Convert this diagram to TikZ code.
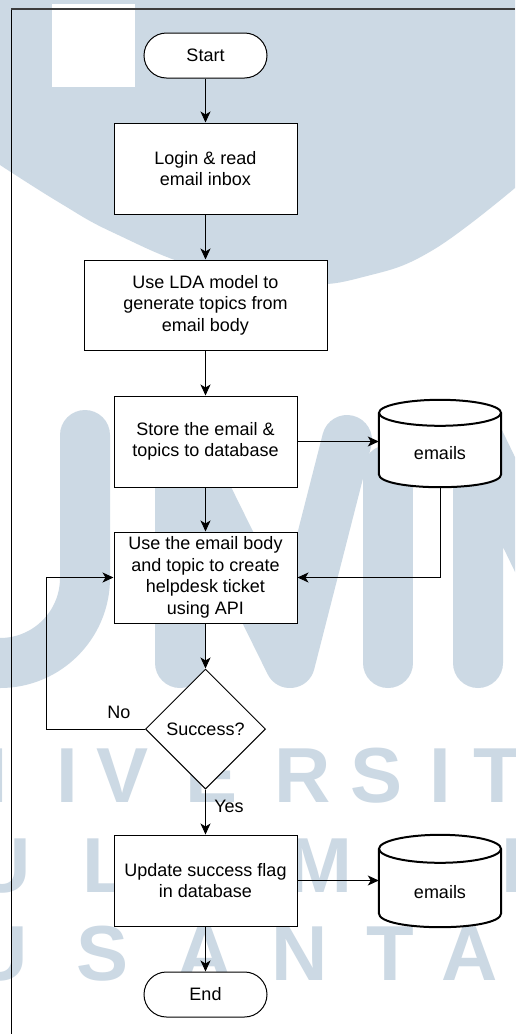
\documentclass[tikz,border=0pt]{standalone}
\usepackage{fontspec}
\setmainfont{Liberation Sans}
\usetikzlibrary{arrows.meta,shapes.geometric,calc}

\definecolor{wm}{RGB}{204,217,228}
\definecolor{framegray}{RGB}{60,60,60}

% database cylinder drawn around an (invisible) node: #1 node name, #2 cap half-height
\newcommand\dbdraw[2]{%
  \fill[white] ([yshift=-#2]#1.north west) rectangle ([yshift=#2]#1.south east);
  \fill[white] ([yshift=-#2]#1.north) ellipse [x radius=61pt, y radius=#2];
  \fill[white] ([yshift=#2]#1.south) ellipse [x radius=61pt, y radius=#2];
  \draw[dbline] ([yshift=-#2]#1.north) ellipse [x radius=61pt, y radius=#2];
  \draw[dbline] ([yshift=-#2]#1.north west) -- ([yshift=#2]#1.south west)
    .. controls +(0pt,{-1.3333*#2}) and +(0pt,{-1.3333*#2}) .. ([yshift=#2]#1.south east)
    -- ([yshift=-#2]#1.north east);
}

\begin{document}
\begin{tikzpicture}[x=1pt,y=-1pt,
  every node/.style={font=\fontsize{18}{21.6}\selectfont},
  proc/.style={draw, line width=1pt, fill=white, align=center,
    minimum width=183pt, minimum height=91pt, inner sep=0pt},
  term/.style={draw, line width=1pt, fill=white, rounded corners=22.5pt,
    minimum width=123pt, minimum height=45pt, inner sep=0pt},
  decide/.style={draw, diamond, line width=1pt, fill=white,
    minimum width=120pt, minimum height=120pt, inner sep=0pt},
  dbbox/.style={minimum width=122pt, inner sep=0pt},
  dbline/.style={line width=2pt},
  flow/.style={line width=1pt, -{Stealth[length=11pt,width=10pt,inset=3pt]}},
  lbl/.style={inner sep=0pt},
  wmstroke/.style={draw=wm, line width=50pt, line cap=round, line join=round},
  wmletter/.style={text=wm, anchor=base, inner sep=0pt,
    font=\fontsize{78}{78}\selectfont\bfseries}
]
\useasboundingbox (0,0) rectangle (515,1034);
\fill[white] (0,0) rectangle (515,1034);

% background emblem
\begin{scope}
  \clip (0,0) rectangle (515,1034);
  \fill[wm] (0,0) -- plot[smooth, tension=0.7] coordinates
    {(0,165) (60,203) (114,233) (200,268) (300,284) (367,276) (433,250) (515,188)}
    -- (515,0) -- cycle;
  \fill[white] (52,4) rectangle (135,87);
  % U
  \draw[wmstroke] (85,435) -- (85,578) .. controls (85,625) and (47,663) .. (0,663) -- (-60,663);
  % M
  \draw[wmstroke] (180,663) -- (180,440) -- (290,663) -- (347,440);
  \draw[wmstroke] (388,470) -- (388,663);
  % N
  \draw[wmstroke] (478,663) -- (478,438) -- (600,690);
  % lettering
  \foreach \c/\x [count=\i] in {N/-20, I/67, V/123, E/212, R/303, S/377, I/440, T/497}
    \node[wmletter] (wma\i) at (\x,802) {\c};
  \foreach \c/\x [count=\i] in {U/3, L/106, M/320, D/530}
    \node[wmletter] (wmb\i) at (\x,892) {\c};
  \foreach \c/\x [count=\i] in {U/0, S/103, A/205, N/300, T/390, A/470}
    \node[wmletter] (wmc\i) at (\x,980) {\c};
\end{scope}

% page frame
\draw[line width=1pt] (11,1034) -- (11,9);
\draw[framegray, line width=1.2pt] (11,9) -- (515,9);

% flow nodes
\node[term] (start) at (205.5,55.5) {Start};
\node[proc] (login) at (205.5,168.5) {Login \& read\\email inbox};
\node[proc, minimum width=243pt, minimum height=90pt] (lda) at (205.5,305)
  {Use LDA model to\\generate topics from\\email body};
\node[proc] (store) at (205.5,441.5) {Store the email \&\\topics to database};
\node[proc] (ticket) at (205.5,577.5)
  {Use the email body\\and topic to create\\helpdesk ticket\\using API};
\node[decide] (ok) at (205.5,729) {Success?};
\node[proc] (update) at (205.5,880.5) {Update success flag\\in database};
\node[term] (end) at (205.5,994.5) {End};

% databases
\node[dbbox, minimum height=87pt] (db1) at (440,443.5) {};
\dbdraw{db1}{13pt}
\node (db1txt) at (440,453) {emails};
\node[dbbox, minimum height=92pt] (db2) at (440,881) {};
\dbdraw{db2}{14pt}
\node (db2txt) at (440,892) {emails};

% branch labels
\node[lbl] (no) at (119,712) {No};
\node[lbl] (yes) at (229,806) {Yes};

% connectors
\draw[flow] (start) -- (login);
\draw[flow] (login) -- (lda);
\draw[flow] (lda) -- (store);
\draw[flow] (store) -- (ticket);
\draw[flow] (ticket) -- (ok);
\draw[flow] (ok) -- (update);
\draw[flow] (update) -- (end);
\draw[flow] (store.east) -- (store.east -| db1.west);
\draw[flow] (update.east) -- (update.east -| db2.west);
\draw[flow] (db1.south) |- (ticket.east);
\coordinate (loop) at (46,729);
\draw[flow] (ok.west) -- (loop) |- (ticket.west);
\end{tikzpicture}
\end{document}
